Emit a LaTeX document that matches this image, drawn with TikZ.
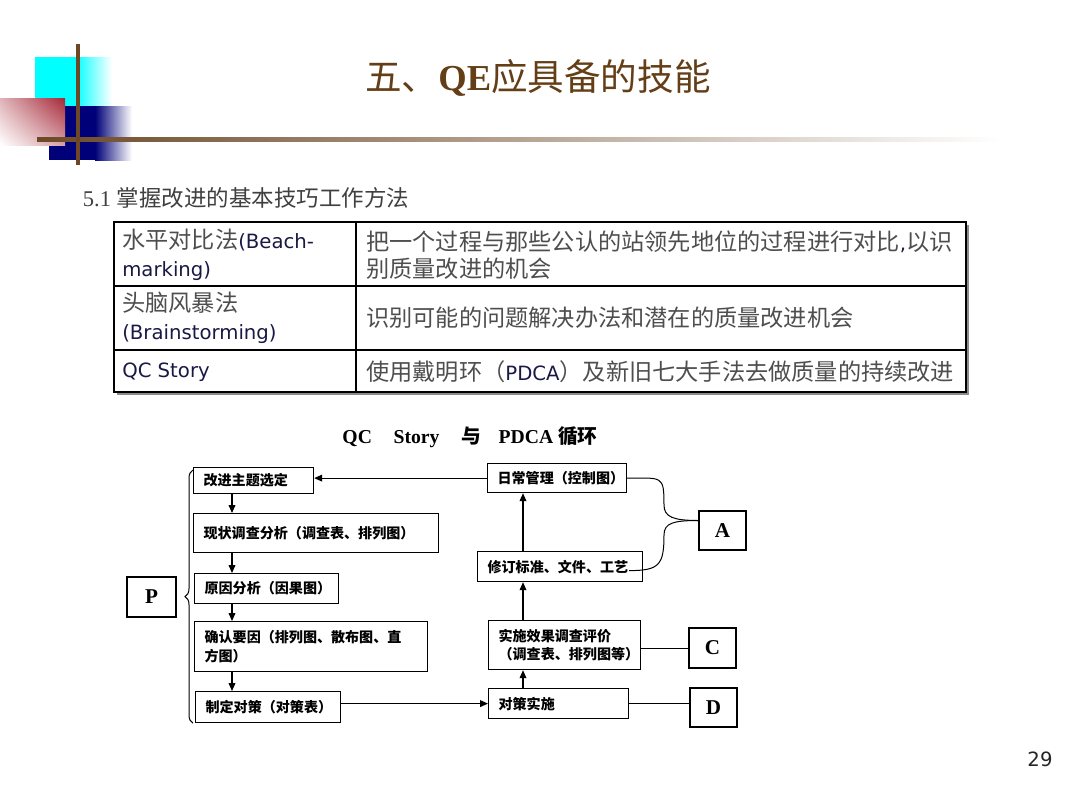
\documentclass[tikz,border=0pt]{standalone}
\usepackage{fontspec}
\setmainfont{Liberation Serif}
\newfontfamily\cjk{Noto Sans CJK SC}
\newfontfamily\verd{DejaVu Sans}
\usetikzlibrary{arrows.meta,positioning,calc,shadings,decorations.pathreplacing}
\definecolor{umber}{RGB}{100,62,22}
\definecolor{bark}{RGB}{108,72,38}
\definecolor{aqua}{RGB}{0,255,255}
\definecolor{navyblue}{RGB}{0,0,120}
\definecolor{wine}{RGB}{165,40,55}
\definecolor{slate}{RGB}{78,78,78}
\definecolor{midnight}{RGB}{25,25,70}
\newcommand\vtxt[1]{{\verd\fontsize{14}{19.5}\selectfont\color{midnight}#1}}
\tikzset{
  >={Triangle[length=2mm,width=1.7mm]},
  cell/.style={anchor=west,align=left,text=slate,inner sep=0pt,
    font=\cjk\fontsize{16.5}{19.5}\selectfont},
  grid/.style={draw=black,line width=0.3mm},
  stepbox/.style={draw=black,line width=0.3mm,anchor=north west,align=left,
    inner xsep=2.5mm,inner ysep=0pt,font=\cjk\bfseries\fontsize{10}{13.5}\selectfont},
  letter/.style={draw=black,line width=0.3mm,inner sep=0pt,
    minimum width=11.75mm,minimum height=9.75mm,font=\bfseries\fontsize{15}{15}\selectfont},
  flow/.style={->,line width=0.3mm},
  link/.style={line width=0.25mm},
}

\begin{document}
\begin{tikzpicture}[x=0.25mm,y=-0.25mm]
  \useasboundingbox (0,0) rectangle (1080,794);
  \fill[white] (0,0) rectangle (1080,794);
  % corner ornament
  \fill[aqua] (35,57) rectangle (75,106);
  \shade[left color=aqua,right color=white] (75,57) rectangle (112,106);
  \fill[navyblue] (49,106) rectangle (95,160);
  \shade[left color=navyblue,right color=white] (95,106) rectangle (132,160);
  \shade[upper left=wine!35,upper right=wine,lower left=white,lower right=wine!45]
    (0,98) rectangle (65,145);
  \shade[left color=bark,middle color=bark!70,right color=white] (37,137) rectangle (1000,141);
  \fill[bark] (76,44) rectangle (80,165);

  \node[font=\fontsize{26}{26}\selectfont,text=umber] (title) at (538,78)
    {{\cjk 五、}\textbf{QE}{\cjk 应具备的技能}};
  \node[anchor=west,font=\fontsize{16}{16}\selectfont,text=black!75] (sub) at (78,198)
    {5.1 {\cjk 掌握改进的基本技巧工作方法}};

  % table
  \fill[black!45] (117,225) rectangle (969,395);
  \fill[white] (114,222) rectangle (966,392);
  \draw[grid] (356,222) -- (356,392) (114,286) -- (966,286) (114,350) -- (966,350);
  \draw[line width=0.5mm] (114,222) rectangle (966,392);
  \node[cell] (t11) at (122,255) {水平对比法\vtxt{(Beach-}\\\vtxt{marking)}};
  \node[cell] (t12) at (366,255) {把一个过程与那些公认的站领先地位的过程进行对比\vtxt{,}以识\\别质量改进的机会};
  \node[cell] (t21) at (122,318) {头脑风暴法\\\vtxt{(Brainstorming)}};
  \node[cell] (t22) at (366,318) {识别可能的问题解决办法和潜在的质量改进机会};
  \node[cell] (t31) at (122,372) {\vtxt{QC Story}};
  \node[cell] (t32) at (366,372) {使用戴明环（\vtxt{PDCA}）及新旧七大手法去做质量的持续改进};

  % QC story and PDCA
  \node[font=\bfseries\fontsize{14}{14}\selectfont] (head) at (470,437)
    {QC\hspace{1.1em}Story\hspace{1.1em}{\cjk 与}\hspace{0.9em}PDCA {\cjk 循环}};
  \node[stepbox,text width=25mm,minimum height=6.5mm] (B1) at (193,467) {改进主题选定};
  \node[stepbox,text width=56.25mm,minimum height=9.75mm] (B2) at (193,513) {现状调查分析（调查表、排列图）};
  \node[stepbox,text width=31mm,minimum height=7.5mm] (B3) at (194,573) {原因分析（因果图）};
  \node[stepbox,text width=53.25mm,minimum height=12.5mm] (B4) at (194,621) {确认要因（排列图、散布图、直\\方图）};
  \node[stepbox,text width=31.25mm,minimum height=7.75mm] (B5) at (195,691) {制定对策（对策表）};
  \node[stepbox,text width=29.75mm,minimum height=7.25mm] (R1) at (487,463) {日常管理（控制图）};
  \node[stepbox,text width=36.25mm,minimum height=7.5mm] (R2) at (477,551) {修订标准、文件、工艺};
  \node[stepbox,text width=33mm,minimum height=12.25mm] (R3) at (488,620) {实施效果调查评价\\（调查表、排列图等）};
  \node[stepbox,text width=30mm,minimum height=7.5mm] (R4) at (488,688) {对策实施};
  \node[letter,minimum width=12.25mm,minimum height=10mm] (P) at (151.5,597) {P};
  \node[letter] (A) at (722.5,530.5) {A};
  \node[letter,minimum height=10mm] (C) at (712.5,648) {C};
  \node[letter] (D) at (713.5,707.5) {D};
  \coordinate (lx) at (232,0);
  \coordinate (rx) at (523,0);
  \coordinate (Ain) at ($(A.west)+(0,-10)$);
  \coordinate (R2out) at ($(R2.east)+(-14,4)$);

  \draw[flow] (B1.south -| lx) -- (B2.north -| lx);
  \draw[flow] (B2.south -| lx) -- (B3.north -| lx);
  \draw[flow] (B3.south -| lx) -- (B4.north -| lx);
  \draw[flow] (B4.south -| lx) -- (B5.north -| lx);
  \draw[flow] (B5.east |- R4.west) -- (R4.west);
  \draw[flow] (R4.north -| rx) -- (R3.south -| rx);
  \draw[flow] (R3.north -| rx) -- (R2.south -| rx);
  \draw[flow] (R2.north -| rx) -- (R1.south -| rx);
  \draw[flow] (R1.west) -- (B1.east |- R1.west);
  \draw[link] (R3.east |- C.west) -- (C.west);
  \draw[link] (R4.east) -- (R4.east -| D.west);
  \draw[link] (R1.east) .. controls +(35,0) and +(0,-30) .. (664,505)
    .. controls +(0,12) and +(-25,0) .. (Ain);
  \draw[link] (R2out) .. controls +(30,0) and +(0,30) .. (664,535)
    .. controls +(0,-12) and +(-25,0) .. (Ain);
  \draw[link,decorate,decoration={brace,amplitude=2mm}]
    ($(B5.south west)+(-2,0)$) -- ($(B1.north west)+(0,3)$);

  \node[font=\verd\fontsize{14}{14}\selectfont,text=black!85] (pg) at (1040,759) {29};
\end{tikzpicture}
\end{document}
